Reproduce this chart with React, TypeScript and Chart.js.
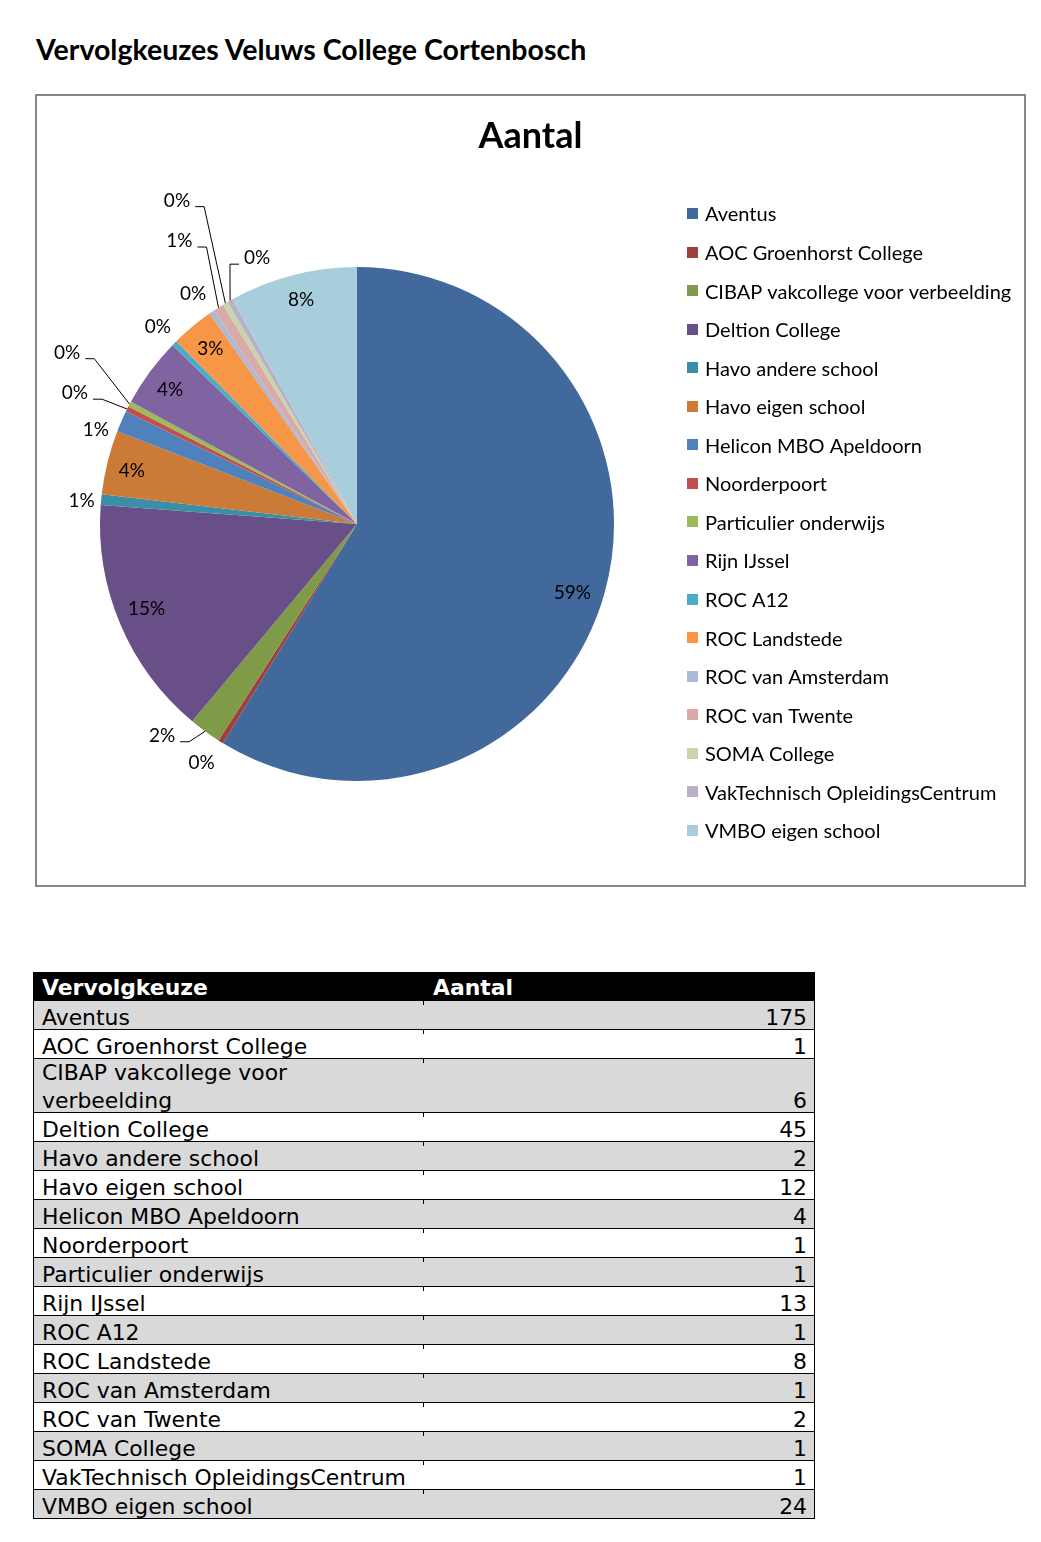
import React, { useEffect, useRef } from "react";
import { Chart, registerables } from "chart.js";

Chart.register(...registerables);

// ---------- data ----------
const PAGE_TITLE = "Vervolgkeuzes Veluws College Cortenbosch";
const CHART_TITLE = "Aantal";
const TABLE_HEAD = ["Vervolgkeuze", "Aantal"];

const categories = [
  "Aventus",
  "AOC Groenhorst College",
  "CIBAP vakcollege voor verbeelding",
  "Deltion College",
  "Havo andere school",
  "Havo eigen school",
  "Helicon MBO Apeldoorn",
  "Noorderpoort",
  "Particulier onderwijs",
  "Rijn IJssel",
  "ROC A12",
  "ROC Landstede",
  "ROC van Amsterdam",
  "ROC van Twente",
  "SOMA College",
  "VakTechnisch OpleidingsCentrum",
  "VMBO eigen school",
];

const counts = [175, 1, 6, 45, 2, 12, 4, 1, 1, 13, 1, 8, 1, 2, 1, 1, 24];

// ---------- styles ----------
const colors = [
  "#41699c",
  "#9e403d",
  "#7f9b48",
  "#694f87",
  "#3a8ea5",
  "#cc7a37",
  "#4f81bd",
  "#c0504d",
  "#9bbb59",
  "#8064a2",
  "#4bacc6",
  "#f79646",
  "#aabad7",
  "#d9aaa9",
  "#c7d6a9",
  "#baaec9",
  "#a8cedc",
];

// data-label placement hints (fraction of radius, angular nudge in degrees, leader line)
const labelRadius = [0.88, 1.11, 1.12, 0.883, 1.075, 0.9, 1.08, 1.21, 1.31, 0.895, 1.09, 0.89, 1.1, 1.3, 1.44, 1.105, 0.9];
const labelShiftDeg = [2, 1, 6.4, 0.9, -0.6, -0.7, -3.8, -1.7, 2.8, -0.6, 0, 0, -1, 0.5, 1.7, 9, 0.5];
const labelLeader = [false, false, true, false, false, false, false, true, true, false, false, false, false, true, true, true, false];

const FONT = "Lato, 'Open Sans', sans-serif";
const TABLE_FONT = "'DejaVu Sans', Verdana, sans-serif";

const decorPlugin = {
  id: "decor",
  afterDraw(chart: any) {
    const ctx: CanvasRenderingContext2D = chart.ctx;
    const meta = chart.getDatasetMeta(0);
    const data = chart.data.datasets[0].data as number[];
    const total = data.reduce((a, b) => a + b, 0);
    ctx.save();

    // chart title
    ctx.fillStyle = "#000";
    ctx.font = `bold 36px ${FONT}`;
    ctx.textAlign = "center";
    ctx.textBaseline = "middle";
    ctx.fillText(CHART_TITLE, chart.width / 2, 41);

    // data labels
    ctx.font = `19px ${FONT}`;
    meta.data.forEach((arc: any, i: number) => {
      const p = arc.getProps(["x", "y", "startAngle", "endAngle", "outerRadius"], true);
      const mid = (p.startAngle + p.endAngle) / 2;
      const a = mid + (labelShiftDeg[i] * Math.PI) / 180;
      const r = p.outerRadius * labelRadius[i];
      const lx = p.x + Math.cos(a) * r;
      const ly = p.y + Math.sin(a) * r;
      const text = Math.round((data[i] / total) * 100) + "%";
      ctx.fillStyle = "#000";
      ctx.textAlign = "center";
      ctx.textBaseline = "middle";
      ctx.fillText(text, lx, ly);
      if (labelLeader[i]) {
        const w = ctx.measureText(text).width;
        const ex = p.x + Math.cos(mid) * p.outerRadius;
        const ey = p.y + Math.sin(mid) * p.outerRadius;
        const dir = lx < ex ? 1 : -1;
        const t0 = lx + dir * (w / 2 + 5);
        const t1 = lx + dir * (w / 2 + 14);
        const yy = ly + 6;
        ctx.strokeStyle = "#000";
        ctx.lineWidth = 1;
        ctx.beginPath();
        ctx.moveTo(t0, yy);
        ctx.lineTo(t1, yy);
        ctx.lineTo(ex, ey);
        ctx.stroke();
      }
    });

    // legend
    const labels = chart.data.labels as string[];
    const bg = chart.data.datasets[0].backgroundColor as string[];
    ctx.font = `20px ${FONT}`;
    ctx.textAlign = "left";
    ctx.textBaseline = "middle";
    labels.forEach((lab, i) => {
      const y0 = 119 + i * 38.56;
      ctx.fillStyle = bg[i];
      ctx.fillRect(651, Math.round(y0 - 6), 11, 11);
      ctx.fillStyle = "#000";
      ctx.fillText(lab, 669, y0 + 1);
    });
    ctx.restore();
  },
};

function DataTable() {
  return (
    <div
      style={{
        position: "absolute",
        left: 33,
        top: 972,
        width: 782,
        borderLeft: "1.5px solid #000",
        borderRight: "1px solid #000",
        fontFamily: TABLE_FONT,
        fontSize: 21.9,
        color: "#000",
        boxSizing: "border-box",
      }}
    >
      <div
        style={{
          display: "flex",
          alignItems: "flex-end",
          height: 29,
          background: "#000",
          color: "#fff",
          fontWeight: "bold",
          lineHeight: "26px",
        }}
      >
        <div style={{ width: 391, paddingLeft: 8, boxSizing: "border-box" }}>{TABLE_HEAD[0]}</div>
        <div style={{ paddingLeft: 8 }}>{TABLE_HEAD[1]}</div>
      </div>
      {categories.map((c, i) => (
        <div
          key={c}
          style={{
            position: "relative",
            display: "flex",
            alignItems: "flex-end",
            minHeight: 28,
            borderBottom: "1px solid #000",
            background: i % 2 === 0 ? "#d9d9d9" : "#fff",
            lineHeight: "28px",
          }}
        >
          <div style={{ position: "absolute", left: 389, top: 0, width: 1, height: 4, background: "#000" }} />
          <div style={{ width: 380, paddingLeft: 8, marginBottom: -3, boxSizing: "border-box" }}>{c}</div>
          <div style={{ flex: 1, textAlign: "right", paddingRight: 7, marginBottom: -3 }}>{counts[i]}</div>
        </div>
      ))}
    </div>
  );
}

export default function App() {
  const ref = useRef<HTMLCanvasElement>(null);

  useEffect(() => {
    if (!ref.current) return;
    const chart = new Chart(ref.current, {
      type: "pie",
      data: {
        labels: categories,
        datasets: [
          {
            data: counts,
            backgroundColor: colors,
            borderWidth: 0,
          },
        ],
      },
      options: {
        responsive: false,
        animation: false,
        devicePixelRatio: 1,
        layout: { padding: { left: 64, top: 172, right: 411, bottom: 105 } },
        plugins: {
          legend: { display: false },
          title: { display: false },
          tooltip: { enabled: false },
        },
      },
      plugins: [decorPlugin],
    });
    let alive = true;
    if ((document as any).fonts && (document as any).fonts.ready) {
      (document as any).fonts.ready.then(() => {
        if (alive) chart.update();
      });
    }
    return () => {
      alive = false;
      chart.destroy();
    };
  }, []);

  return (
    <div
      style={{
        position: "absolute",
        left: 0,
        top: 0,
        width: 1041,
        height: 1542,
        background: "#fff",
        overflow: "hidden",
      }}
    >
      <div
        style={{
          position: "absolute",
          left: 36,
          top: 31,
          font: `bold 28.5px ${FONT}`,
          color: "#000",
          whiteSpace: "nowrap",
          lineHeight: "36px",
        }}
      >
        {PAGE_TITLE}
      </div>
      <canvas ref={ref} width={989} height={791} style={{ position: "absolute", left: 36, top: 95 }} />
      <div
        style={{
          position: "absolute",
          left: 35,
          top: 94,
          width: 991,
          height: 793,
          border: "2px solid #868686",
          boxSizing: "border-box",
          pointerEvents: "none",
        }}
      />
      <DataTable />
    </div>
  );
}
